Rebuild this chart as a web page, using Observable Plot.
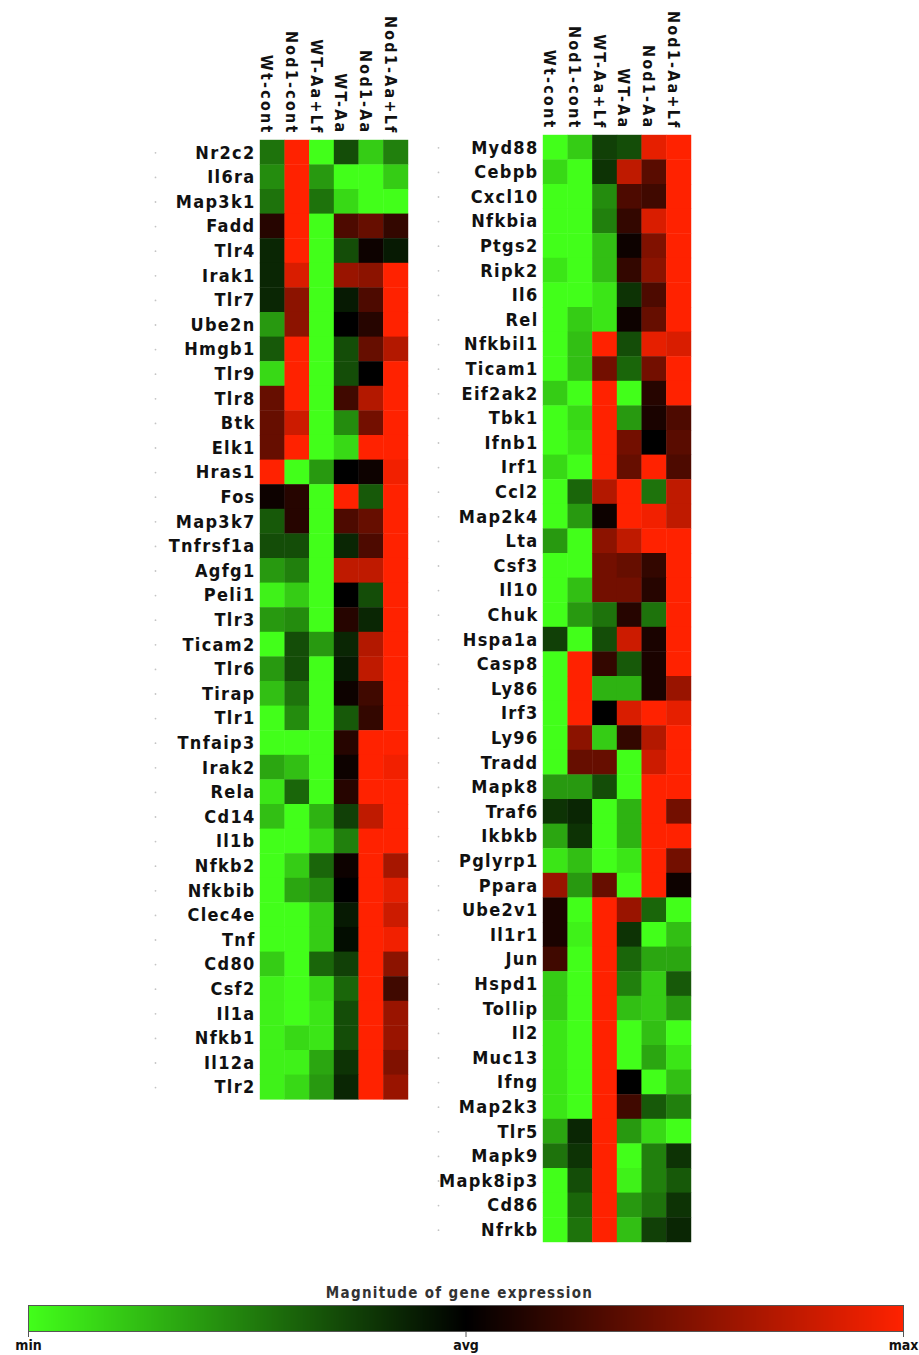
<!DOCTYPE html>
<html>
<head>
<meta charset="utf-8">
<script src="https://cdn.jsdelivr.net/npm/d3@7"></script>
<script src="https://cdn.jsdelivr.net/npm/@observablehq/plot@0.6"></script>
<style>
  html, body { margin: 0; padding: 0; background: #fff; }
  #page { position: relative; width: 919px; height: 1355px; overflow: hidden; }
  #page svg { position: absolute; left: 0; overflow: visible; }
  #legend-title {
    position: absolute; left: 0; width: 919px; top: 1284px; text-align: center;
    font: bold 15px "DejaVu Sans Condensed", "DejaVu Sans", sans-serif;
    letter-spacing: 1.3px; color: #333;
  }
</style>
</head>
<body>
<div id="page"><div id="legend-title">Magnitude of gene expression</div></div>
<script>
// Sample groups (columns of both heat maps)
const conditions = ["Wt-cont", "Nod1-cont", "WT-Aa+Lf", "WT-Aa", "Nod1-Aa", "Nod1-Aa+Lf"];

// Relative expression, -1 = min, 0 = average, 1 = max
const leftGenes = ["Nr2c2", "Il6ra", "Map3k1", "Fadd", "Tlr4", "Irak1", "Tlr7", "Ube2n", "Hmgb1", "Tlr9",
  "Tlr8", "Btk", "Elk1", "Hras1", "Fos", "Map3k7", "Tnfrsf1a", "Agfg1", "Peli1", "Tlr3",
  "Ticam2", "Tlr6", "Tirap", "Tlr1", "Tnfaip3", "Irak2", "Rela", "Cd14", "Il1b", "Nfkb2",
  "Nfkbib", "Clec4e", "Tnf", "Cd80", "Csf2", "Il1a", "Nfkb1", "Il12a", "Tlr2"];

const leftValues = [
  [-0.45, 1, -1, -0.3, -0.8, -0.5],
  [-0.55, 1, -0.6, -1, -1, -0.8],
  [-0.45, 1, -0.45, -0.85, -1, -1],
  [0.15, 1, -1, 0.3, 0.4, 0.2],
  [-0.15, 1, -1, -0.3, 0.05, -0.1],
  [-0.15, 0.85, -1, 0.6, 0.55, 1],
  [-0.15, 0.55, -1, -0.1, 0.3, 1],
  [-0.6, 0.55, -1, 0.0, 0.15, 1],
  [-0.35, 1, -1, -0.3, 0.4, 0.7],
  [-0.85, 1, -1, -0.3, 0.0, 1],
  [0.4, 1, -1, 0.25, 0.7, 1],
  [0.4, 0.8, -1, -0.55, 0.45, 1],
  [0.4, 1, -1, -0.85, 1, 1],
  [1, -1, -0.6, 0.0, 0.05, 0.95],
  [0.05, 0.15, -1, 1, -0.35, 1],
  [-0.35, 0.15, -1, 0.3, 0.4, 1],
  [-0.3, -0.3, -1, -0.15, 0.3, 1],
  [-0.6, -0.5, -1, 0.75, 0.75, 1],
  [-0.95, -0.8, -1, 0.0, -0.3, 1],
  [-0.6, -0.55, -1, 0.15, -0.15, 1],
  [-1, -0.3, -0.6, -0.15, 0.7, 1],
  [-0.6, -0.3, -1, -0.1, 0.75, 1],
  [-0.75, -0.45, -1, 0.05, 0.25, 1],
  [-1, -0.55, -1, -0.35, 0.2, 1],
  [-1, -1, -1, 0.15, 1, 1],
  [-0.65, -0.75, -1, 0.05, 1, 0.95],
  [-0.9, -0.4, -1, 0.15, 1, 1],
  [-0.75, -1, -0.7, -0.25, 0.75, 1],
  [-1, -1, -0.85, -0.5, 1, 1],
  [-1, -0.8, -0.4, 0.05, 1, 0.65],
  [-1, -0.65, -0.55, 0.0, 1, 0.9],
  [-1, -1, -0.8, -0.1, 1, 0.8],
  [-1, -1, -0.8, -0.05, 1, 0.95],
  [-0.8, -1, -0.4, -0.25, 1, 0.55],
  [-0.95, -1, -0.85, -0.4, 1, 0.25],
  [-0.95, -1, -0.9, -0.3, 1, 0.6],
  [-0.95, -0.85, -0.9, -0.3, 1, 0.6],
  [-0.95, -0.95, -0.65, -0.2, 1, 0.5],
  [-0.95, -0.85, -0.6, -0.15, 1, 0.6]
];

const rightGenes = ["Myd88", "Cebpb", "Cxcl10", "Nfkbia", "Ptgs2", "Ripk2", "Il6", "Rel", "Nfkbil1", "Ticam1",
  "Eif2ak2", "Tbk1", "Ifnb1", "Irf1", "Ccl2", "Map2k4", "Lta", "Csf3", "Il10", "Chuk",
  "Hspa1a", "Casp8", "Ly86", "Irf3", "Ly96", "Tradd", "Mapk8", "Traf6", "Ikbkb", "Pglyrp1",
  "Ppara", "Ube2v1", "Il1r1", "Jun", "Hspd1", "Tollip", "Il2", "Muc13", "Ifng", "Map2k3",
  "Tlr5", "Mapk9", "Mapk8ip3", "Cd86", "Nfrkb"];

const rightValues = [
  [-1, -0.8, -0.25, -0.3, 0.9, 1],
  [-0.85, -1, -0.2, 0.75, 0.35, 1],
  [-1, -1, -0.55, 0.3, 0.25, 1],
  [-1, -1, -0.5, 0.2, 0.85, 1],
  [-1, -1, -0.75, 0.05, 0.5, 1],
  [-0.9, -1, -0.75, 0.2, 0.55, 1],
  [-1, -1, -0.9, -0.2, 0.3, 1],
  [-1, -0.8, -0.9, 0.05, 0.4, 1],
  [-1, -0.75, 1, -0.3, 0.9, 0.85],
  [-1, -0.75, 0.45, -0.4, 0.45, 1],
  [-0.8, -1, 1, -1, 0.15, 1],
  [-1, -0.85, 1, -0.6, 0.1, 0.3],
  [-1, -0.9, 1, 0.45, 0.0, 0.35],
  [-0.85, -1, 1, 0.4, 1, 0.3],
  [-1, -0.4, 0.7, 1, -0.45, 0.75],
  [-1, -0.6, 0.05, 1, 0.95, 0.75],
  [-0.6, -1, 0.55, 0.75, 1, 1],
  [-1, -1, 0.45, 0.4, 0.2, 1],
  [-1, -0.75, 0.45, 0.45, 0.15, 1],
  [-1, -0.6, -0.45, 0.15, -0.45, 1],
  [-0.25, -1, -0.3, 0.8, 0.1, 1],
  [-1, 1, 0.2, -0.35, 0.1, 1],
  [-1, 1, -0.7, -0.7, 0.1, 0.6],
  [-1, 1, 0.0, 0.85, 1, 0.9],
  [-1, 0.55, -0.8, 0.2, 0.7, 1],
  [-1, 0.4, 0.4, -1, 0.8, 1],
  [-0.6, -0.6, -0.3, -1, 1, 1],
  [-0.2, -0.15, -1, -0.7, 1, 0.45],
  [-0.65, -0.2, -1, -0.7, 1, 1],
  [-0.9, -0.75, -1, -0.9, 1, 0.45],
  [0.6, -0.6, 0.4, -1, 1, 0.05],
  [0.1, -1, 1, 0.6, -0.4, -1],
  [0.1, -0.95, 1, -0.2, -1, -0.75],
  [0.25, -1, 1, -0.4, -0.65, -0.65],
  [-0.8, -1, 1, -0.5, -0.8, -0.35],
  [-0.8, -1, 1, -0.75, -0.8, -0.6],
  [-0.9, -1, 1, -1, -0.75, -1],
  [-0.9, -1, 1, -1, -0.65, -0.9],
  [-0.9, -1, 1, 0.0, -1, -0.75],
  [-0.9, -1, 1, 0.25, -0.35, -0.5],
  [-0.65, -0.15, 1, -0.6, -0.85, -1],
  [-0.45, -0.2, 1, -1, -0.5, -0.2],
  [-1, -0.3, 1, -0.95, -0.5, -0.35],
  [-1, -0.4, 1, -0.6, -0.45, -0.2],
  [-1, -0.45, 1, -0.75, -0.25, -0.15]
];

// Colour bar ends and labels
const legendValues = [-1, 0, 1];
const legendLabels = ["min", "avg", "max"];

const GREEN = "#42ff1a", RED = "#ff2200";
const color = {type: "linear", domain: [-1, 0, 1], range: [GREEN, "#000000", RED], interpolate: "rgb"};

const FONT = "'DejaVu Sans Condensed', 'DejaVu Sans', sans-serif";
const PAGE_W = 919, ROW = 24.6, COL = 24.67;
const page = document.getElementById("page");

function heatmap(genes, values, left, top) {
  const cells = genes.flatMap((gene, i) =>
    conditions.map((condition, j) => ({gene, condition, value: values[i][j]})));
  const plotW = COL * conditions.length;
  const svg = Plot.plot({
    width: PAGE_W,
    height: top + ROW * genes.length + 14,
    marginLeft: left,
    marginRight: PAGE_W - left - plotW,
    marginTop: top,
    marginBottom: 14,
    x: {type: "band", domain: conditions, padding: 0, round: false, axis: null},
    y: {type: "band", domain: genes, padding: 0, round: false, axis: null},
    color,
    style: {fontFamily: FONT, fontWeight: "bold", color: "#111", background: "transparent"},
    marks: [
      Plot.cell(cells, {x: "condition", y: "gene", fill: "value", inset: -0.2}),
      Plot.dot(genes, {y: d => d, frameAnchor: "left", dx: -105, r: 0.9, fill: "#c4c4c4", stroke: null}),
      // gene names
      Plot.text(genes, {y: d => d, frameAnchor: "left", textAnchor: "end", dx: -5, fontSize: 18, fill: "#111"}),
      // sample group names, rotated above the columns
      Plot.text(conditions, {x: d => d, frameAnchor: "top", rotate: 90, textAnchor: "end", dy: -6,
        fontSize: 16, fill: "#111"})
    ]
  });
  const textGroups = svg.querySelectorAll('g[aria-label="text"]');
  d3.select(textGroups[0]).selectAll("text").style("letter-spacing", "1.3px");
  d3.select(textGroups[1]).selectAll("text").style("letter-spacing", "2.2px");
  svg.style.top = "0px";
  page.appendChild(svg);
}

heatmap(leftGenes, leftValues, 260, 140);
heatmap(rightGenes, rightValues, 543, 135);

// Colour bar
const legend = Plot.plot({
  width: PAGE_W,
  height: 55,
  marginLeft: 28,
  marginRight: 16,
  marginTop: 5,
  marginBottom: 24,
  x: {domain: [-1, 1]},
  y: {domain: [0, 1], axis: null},
  color,
  style: {fontFamily: FONT, fontWeight: "bold", fontSize: "14px", color: "#111", background: "transparent"},
  marks: [
    Plot.raster({x1: -1, x2: 1, y1: 0, y2: 1, fill: (x, y) => x, width: 875, height: 1}),
    Plot.frame({stroke: "#555", strokeWidth: 1}),
    Plot.axisX({ticks: legendValues, tickFormat: d => legendLabels[legendValues.indexOf(d)],
      tickSize: 6, tickPadding: 3, label: null, stroke: "#555"})
  ]
});
legend.style.top = "1300px";
page.appendChild(legend);
</script>
</body>
</html>
